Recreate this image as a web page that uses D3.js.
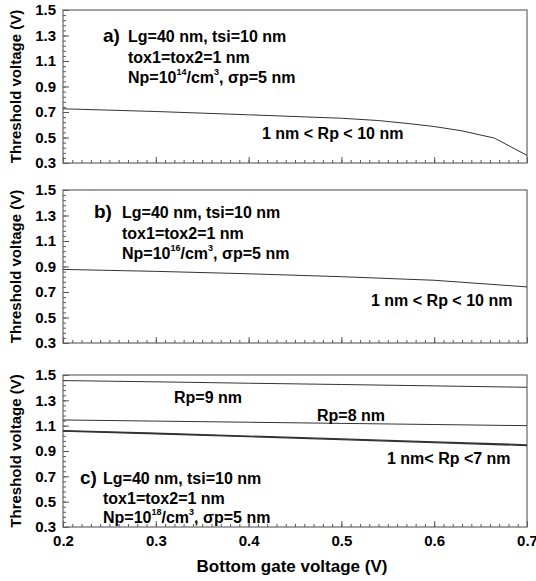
<!DOCTYPE html>
<html><head><meta charset="utf-8">
<script src="https://cdn.jsdelivr.net/npm/d3@7"></script>
<style>body{margin:0;background:#fff}svg{display:block}text{font-family:"Liberation Sans",Arial,sans-serif;font-weight:bold;fill:#000}</style>
</head><body><div id="chart"></div>
<script>
// ---- data ----
const xTickLabels = ["0.2","0.3","0.4","0.5","0.6","0.7"];
const yTickLabels = ["0.3","0.5","0.7","0.9","1.1","1.3","1.5"];
const vbg = [0.2,0.3,0.4,0.5,0.54,0.575,0.6,0.63,0.665,0.7];
const vthA = [0.725,0.704,0.678,0.651,0.633,0.607,0.586,0.552,0.495,0.36];
const vbgB = [0.2,0.3,0.4,0.5,0.6,0.7];
const vthB = [0.877,0.862,0.843,0.82,0.792,0.74];
const vbgC = [0.2,0.3,0.4,0.5,0.6,0.7];
const vthC_Rp9 = [1.456,1.446,1.435,1.425,1.414,1.403];
const vthC_Rp8 = [1.145,1.136,1.127,1.118,1.109,1.100];
const vthC_Rp1to7a = [1.061,1.040,1.018,0.995,0.972,0.949];
const vthC_Rp1to7b = [1.057,1.036,1.013,0.990,0.966,0.943];

const W=536,H=581;
const svg=d3.select("#chart").append("svg").attr("width",W).attr("height",H);
const x=d3.scaleLinear().domain([0.2,0.7]).range([63,527]);

const panels=[
 {top:10,bot:163},
 {top:190,bot:343},
 {top:375,bot:527}
];
panels.forEach((p,i)=>{
  p.y=d3.scaleLinear().domain([0.3,1.5]).range([p.bot,p.top]);
  const g=svg.append("g");
  const yMinor=d3.range(0,31).map(k=>+(0.3+0.04*k).toFixed(2));
  g.append("g").attr("transform",`translate(${x.range()[0]},0)`)
   .call(d3.axisLeft(p.y).tickValues(yMinor).tickSize(-3).tickFormat(""))
   .call(a=>{a.select(".domain").remove();a.selectAll("line").attr("stroke","#555");});
  g.append("g").attr("transform",`translate(${x.range()[0]},0)`)
   .call(d3.axisLeft(p.y).tickValues(yTickLabels.map(Number)).tickSize(-6).tickPadding(7).tickFormat((d,j)=>yTickLabels[j]))
   .call(a=>{a.select(".domain").remove();a.selectAll("line").attr("stroke","#555");
     a.selectAll("text").style("font-size","15px").style("font-family","Liberation Sans, Arial").style("font-weight","bold").attr("fill","#000");});
  const xMinor=d3.range(0,51).map(k=>+(0.2+0.01*k).toFixed(2));
  g.append("g").attr("transform",`translate(0,${p.bot})`)
   .call(d3.axisBottom(x).tickValues(xMinor).tickSize(-3).tickFormat(""))
   .call(a=>{a.select(".domain").remove();a.selectAll("line").attr("stroke","#555");});
  g.append("g").attr("transform",`translate(0,${p.bot})`)
   .call(d3.axisBottom(x).tickValues(xTickLabels.map(Number)).tickSize(-6).tickPadding(8)
     .tickFormat(i===2?((d,j)=>xTickLabels[j]):""))
   .call(a=>{a.select(".domain").remove();a.selectAll("line").attr("stroke","#555");
     a.selectAll("text").style("font-size","15px").style("font-family","Liberation Sans, Arial").style("font-weight","bold").attr("fill","#000");});
  g.append("rect").attr("x",x.range()[0]).attr("y",p.top).attr("width",x.range()[1]-x.range()[0]).attr("height",p.bot-p.top)
   .attr("fill","none").attr("stroke","#666").attr("stroke-width",1.2);
  g.append("text").attr("transform",`translate(21,${(p.top+p.bot)/2}) rotate(-90)`)
   .attr("text-anchor","middle").style("font-size","15px").text("Threshold voltage (V)");
});

const line=(ys,xs,sc)=>d3.line().x((d,j)=>x(xs[j])).y(d=>sc(d))(ys);
function drawLine(p,xs,ys,w){
  svg.append("path").attr("d",line(ys,xs,p.y)).attr("fill","none").attr("stroke","#333").attr("stroke-width",w);
}
drawLine(panels[0],vbg,vthA,1);
drawLine(panels[1],vbgB,vthB,1);
drawLine(panels[2],vbgC,vthC_Rp9,1);
drawLine(panels[2],vbgC,vthC_Rp8,1);
drawLine(panels[2],vbgC,vthC_Rp1to7a,1.3);
drawLine(panels[2],vbgC,vthC_Rp1to7b,1.3);

function txt(xp,yp,s,size){return svg.append("text").attr("x",xp).attr("y",yp).style("font-size",(size||16)+"px").text(s);}
function npText(xp,yp,exp){
  const t=svg.append("text").attr("x",xp).attr("y",yp).style("font-size","16px");
  t.append("tspan").text("Np=10");
  t.append("tspan").attr("dy",-8).style("font-size","9px").text(exp);
  t.append("tspan").attr("dy",8).text("/cm");
  t.append("tspan").attr("dy",-8).style("font-size","9px").text("3");
  t.append("tspan").attr("dy",8).text(", σp=5 nm");
}
// panel a
txt(103,42,"a)",19);
txt(128,42,"Lg=40 nm, tsi=10 nm");
txt(128,63,"tox1=tox2=1 nm");
npText(128,83,"14");
txt(262,139,"1 nm < Rp < 10 nm");
// panel b
txt(94,218,"b)",19);
txt(122,218,"Lg=40 nm, tsi=10 nm");
txt(122,239,"tox1=tox2=1 nm");
npText(122,259,"16");
txt(371,306,"1 nm < Rp < 10 nm");
// panel c
txt(174,403,"Rp=9 nm");
txt(317,421,"Rp=8 nm");
txt(387,464,"1 nm< Rp <7 nm");
txt(80,484,"c)",19);
txt(103,484,"Lg=40 nm, tsi=10 nm");
txt(103,504,"tox1=tox2=1 nm");
npText(103,523,"18");
svg.append("text").attr("x",292).attr("y",572).attr("text-anchor","middle").style("font-size","17px").text("Bottom gate voltage (V)");
</script></body></html>
